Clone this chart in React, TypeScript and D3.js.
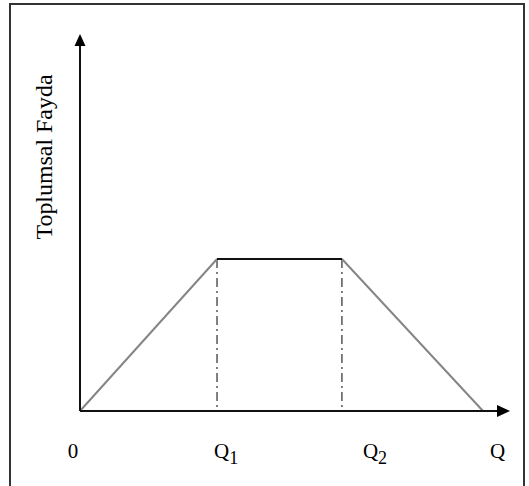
import React from "react";
import * as d3 from "d3";

const quantityKeys = ["0", "Q1", "Q2", "Qmax"];
const quantityValues = [0, 3.4, 6.5, 10];
const benefitValues = [0, 1, 1, 0];
const tickLabels = ["0", "Q", "Q", "Q"];
const tickSubs = ["", "1", "2", ""];
const yTitle = "Toplumsal Fayda";

export default function App() {
  const W = 529;
  const H = 486;
  const x = d3.scaleLinear().domain([0, 10]).range([80, 483]);
  const y = d3.scaleLinear().domain([0, 1]).range([411, 259]);
  const pts: [number, number][] = quantityValues.map((q, i) => [q, benefitValues[i]]);
  const line = d3
    .line<[number, number]>()
    .x((d) => x(d[0]))
    .y((d) => y(d[1]));
  const x0 = x(0);
  const y0 = y(0);
  const labelOffsets = [-7, -3, 21, 7];
  const font = "'Liberation Serif', 'Times New Roman', serif";
  return (
    <svg
      width={W}
      height={H}
      style={{ position: "absolute", left: 0, top: 0, background: "#fff" }}
    >
      <rect x={10} y={4} width={514} height={600} fill="#fff" stroke="#333" strokeWidth={2} />
      {/* dashed guides */}
      {[1, 2].map((i) => (
        <line
          key={quantityKeys[i]}
          x1={x(quantityValues[i])}
          x2={x(quantityValues[i])}
          y1={y(benefitValues[i])}
          y2={y0}
          stroke="#000"
          strokeWidth={1}
          strokeDasharray="9,4,2,4"
        />
      ))}
      {/* slopes */}
      <path d={line([pts[0], pts[1]]) || ""} fill="none" stroke="#858585" strokeWidth={2} />
      <path d={line([pts[2], pts[3]]) || ""} fill="none" stroke="#858585" strokeWidth={2} />
      <path d={line([pts[1], pts[2]]) || ""} fill="none" stroke="#111" strokeWidth={2} />
      {/* axes */}
      <line x1={x0} x2={x0} y1={y0} y2={44} stroke="#111" strokeWidth={2} />
      <line x1={x0} x2={498} y1={y0} y2={y0} stroke="#111" strokeWidth={2} />
      <path d={`M${x0},34 L${x0 - 5.5},46 L${x0 + 5.5},46 Z`} fill="#000" />
      <path d={`M510,${y0} L497,${y0 - 6} L497,${y0 + 6} Z`} fill="#000" />
      {/* tick labels */}
      {tickLabels.map((t, i) => (
        <text
          key={quantityKeys[i]}
          x={x(quantityValues[i]) + labelOffsets[i]}
          y={458}
          fontFamily={font}
          fontSize={21}
          textAnchor={i === 0 ? "middle" : "start"}
          fill="#000"
        >
          {t}
          {tickSubs[i] && (
            <tspan fontSize={18} dy={6}>
              {tickSubs[i]}
            </tspan>
          )}
        </text>
      ))}
      <text
        transform={`translate(52,157) rotate(-90)`}
        fontFamily={font}
        fontSize={23}
        textAnchor="middle"
        textLength={165}
        lengthAdjust="spacingAndGlyphs"
        fill="#000"
      >
        {yTitle}
      </text>
    </svg>
  );
}
